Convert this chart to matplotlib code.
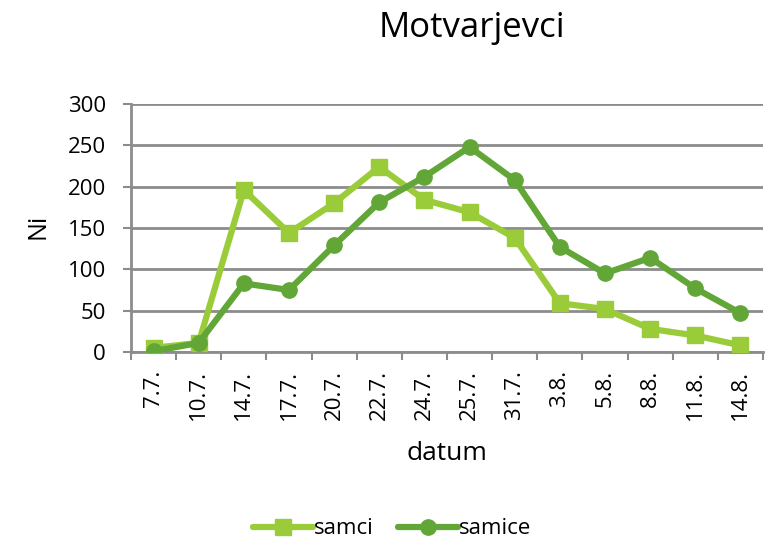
import matplotlib
matplotlib.use("Agg")
import matplotlib.pyplot as plt
import numpy as np

categories = ["7.7.", "10.7.", "14.7.", "17.7.", "20.7.", "22.7.", "24.7.", "25.7.",
              "31.7.", "3.8.", "5.8.", "8.8.", "11.8.", "14.8."]
samci = [5, 11, 196, 144, 180, 224, 184, 169, 138, 59, 52, 28, 20, 8]
samice = [1, 11, 83, 75, 129, 181, 212, 248, 208, 127, 95, 114, 77, 47]
yticks = [0, 50, 100, 150, 200, 250, 300]

plt.rcParams['font.family'] = ['Open Sans', 'DejaVu Sans']

W, H = 769, 539
fig = plt.figure(figsize=(W/100, H/100), dpi=100)
L, R, T, B = 131, 763, 104, 352
ax = fig.add_axes([L/W, 1-B/H, (R-L)/W, (B-T)/H])

x = np.arange(len(categories))
c_samci = "#9ACB38"
c_samice = "#62A637"
grid_c = "#8C8C8C"

ax.plot(x, samci, color=c_samci, lw=4.5, marker="s", ms=11, label="samci", zorder=3,
        solid_capstyle="round")
ax.plot(x, samice, color=c_samice, lw=4.5, marker="o", ms=11, label="samice", zorder=4,
        solid_capstyle="round")

ax.set_xlim(-0.5, len(categories) - 0.5)
ax.set_ylim(0, 300)
ax.set_yticks(yticks)
ax.set_yticklabels([str(v) for v in yticks], fontsize=16)
for v in yticks:
    ax.axhline(v, color=grid_c, lw=2, zorder=1)

ax.set_xticks(np.arange(-0.5, len(categories)), minor=False)
ax.set_xticklabels([])
ax.set_xticks(x, minor=True)
ax.set_xticklabels(categories, minor=True, rotation=90, fontsize=16)
ax.tick_params(axis='x', which='minor', length=0, pad=13)
ax.tick_params(axis='x', which='major', length=6, width=1.5, color=grid_c)
ax.tick_params(axis='y', length=6, width=1.5, color=grid_c, pad=12)

for s in ["top", "right"]:
    ax.spines[s].set_visible(False)
for s in ["left", "bottom"]:
    ax.spines[s].set_color(grid_c)
    ax.spines[s].set_linewidth(2)

ax.set_ylabel("Ni", fontsize=18)
ax.yaxis.set_label_coords((38-L)/(R-L), (B-226)/(B-T))
ax.set_xlabel("datum", fontsize=19)
ax.xaxis.set_label_coords(0.5, (B-453)/(B-T))
ax.xaxis.label.set_va("center")
ax.yaxis.label.set_va("center")

fig.text(472/W, 1-37/H, "Motvarjevci", fontsize=25, ha="center", va="baseline")

leg = fig.legend(loc="center", bbox_to_anchor=(392/W, 1-529/H), ncol=2, frameon=False,
                 fontsize=16, handlelength=2.7, handletextpad=0.05, columnspacing=1.1,
                 borderpad=0, borderaxespad=0)

fig.savefig("out.png", dpi=100)
